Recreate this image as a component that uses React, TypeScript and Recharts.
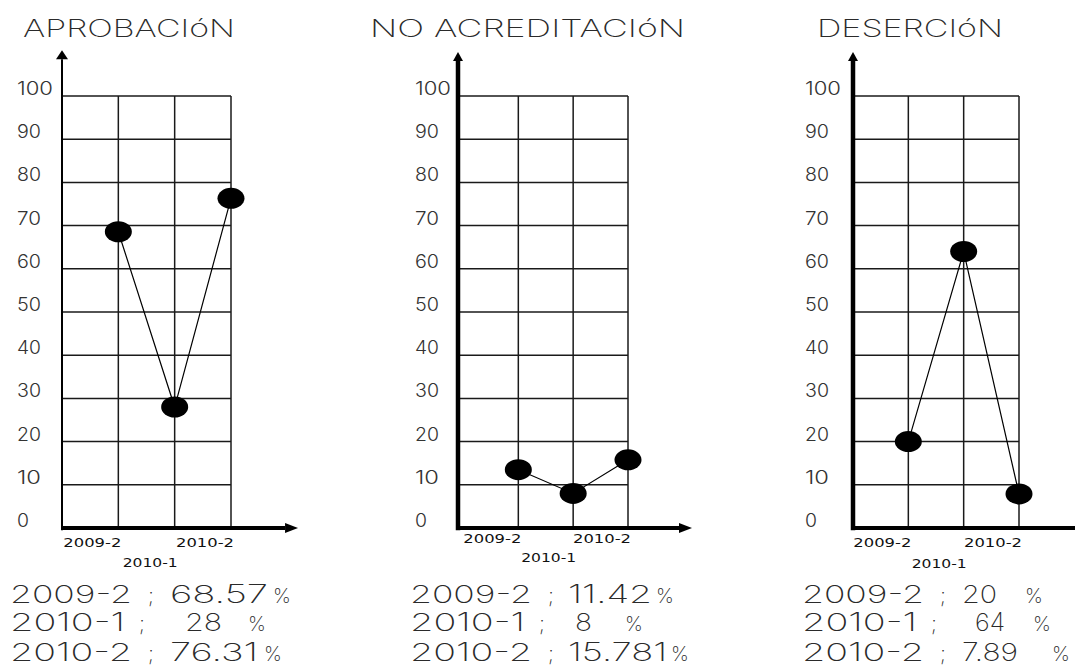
import React from 'react';
import { LineChart, Line, XAxis, YAxis, CartesianGrid, ReferenceLine } from 'recharts';

// ---------- data ----------
const periods = ['2009-2', '2010-1', '2010-2'];
const yTicks = [0, 10, 20, 30, 40, 50, 60, 70, 80, 90, 100];
const titles = ['APROBACIóN', 'NO ACREDITACIóN', 'DESERCIóN'];
const aprobacion = [68.57, 28, 76.31];
const noAcreditacion = [13.5, 8, 15.78];
const desercion = [20, 64, 7.89];
const aprobacionText = ['68.57', '28', '76.31'];
const noAcreditacionText = ['11.42', '8', '15.781'];
const desercionText = ['20', '64', '7.89'];

// ---------- layout ----------
const FONT = '"DejaVu Sans", sans-serif';
const THIN = 'Inter, "DejaVu Sans", sans-serif';
const INK = '#2a2a2a';
const PLOT_TOP = 96;
const PLOT_BOTTOM = 528;
const H = 666;
const Y_AXIS_W = 50;
const X_AXIS_H = 40;

const panels = [
  {
    left: 0, width: 310, axisX: 62, rightX: 231, xMin: 0, arrowX: 4.19, arrowY: 110.6,
    yAxisW: 2, yHead: 9, yHalf: 6, xHead: 13, xHalf: 5,
    yLabelOff: 45, xLabDy: [19, 39, 19],
    title: [23, 235], labelX: 10,
    nums: [[170, 268, 273], [185, 222, 248], [170, 258, 264]],
  },
  {
    left: 360, width: 340, axisX: 458, rightX: 628, xMin: -0.1, arrowX: 4.167, arrowY: 110.2,
    yAxisW: 4.5, yHead: 9, yHalf: 5, xHead: 13, xHalf: 5,
    yLabelOff: 43, xLabDy: [15, 34, 15],
    title: [370, 685], labelX: 410,
    nums: [[568, 652, 656], [575, 592, 625], [568, 667, 671]],
  },
  {
    left: 760, width: 315, axisX: 853, rightX: 1019, xMin: 0, arrowX: 4.3, arrowY: 110.2,
    yAxisW: 4.5, yHead: 9, yHalf: 5, xHead: 13, xHalf: 5,
    yLabelOff: 48, xLabDy: [19, 40, 19],
    title: [817, 1003], labelX: 802,
    nums: [[962, 997, 1025], [975, 1005, 1033], [962, 1018, 1052]],
  },
];

const seriesList = [aprobacion, noAcreditacion, desercion];
const textList = [aprobacionText, noAcreditacionText, desercionText];
const baselines = [603, 631, 661];

function Arrow(props: any) {
  const { x1, y1, x2, y2, sw, head, half } = props;
  const dx = x2 - x1;
  const dy = y2 - y1;
  const len = Math.hypot(dx, dy) || 1;
  const ux = dx / len;
  const uy = dy / len;
  const bx = x2 - ux * head;
  const by = y2 - uy * head;
  const px = -uy;
  const py = ux;
  return (
    <g>
      <line x1={x1} y1={y1} x2={bx} y2={by} stroke="#000" strokeWidth={sw} />
      <polygon
        points={`${x2},${y2} ${bx + px * half},${by + py * half} ${bx - px * half},${by - py * half}`}
        fill="#000"
      />
    </g>
  );
}

function Panel({ p, values }: { p: any; values: number[] }) {
  const data = values.map((v, i) => ({ x: i + 1, v }));
  const margin = {
    top: PLOT_TOP,
    right: p.left + p.width - p.rightX,
    bottom: H - PLOT_BOTTOM - X_AXIS_H,
    left: p.axisX - p.left - Y_AXIS_W,
  };
  const XTick = (props: any) => {
    const { x, y, payload } = props;
    const i = Math.round(payload.value) - 1;
    if (i < 0 || i > 2) return null;
    const w = i === 1 ? 55 : 58;
    return (
      <text
        x={x + 3 - w}
        y={y + p.xLabDy[i]}
        textLength={w}
        lengthAdjust="spacingAndGlyphs"
        fontFamily={FONT}
        fontSize={13}
        fill="#111"
      >
        {periods[i]}
      </text>
    );
  };
  const YTick = (props: any) => {
    const { x, y, payload } = props;
    const s = String(payload.value);
    return (
      <text x={x - p.yLabelOff} y={y - 1} textLength={s.length * 12} lengthAdjust="spacingAndGlyphs"
        fontFamily={THIN} fontSize={18} fontWeight={300} fill="#333">
        {s}
      </text>
    );
  };
  const Dot = (props: any) => {
    const { cx, cy, index } = props;
    return <ellipse key={`d-${index}`} cx={cx} cy={cy} rx={13.5} ry={10.5} fill="#000" />;
  };
  return (
    <div style={{ position: 'absolute', left: p.left, top: 0 }}>
      <LineChart width={p.width} height={H} data={data} margin={margin}>
        <CartesianGrid stroke="#1a1a1a" strokeWidth={1.5} />
        <XAxis
          type="number"
          dataKey="x"
          domain={[p.xMin, 3]}
          ticks={[1, 2, 3]}
          interval={0}
          height={X_AXIS_H}
          axisLine={false}
          tickLine={false}
          tickSize={0}
          tickMargin={0}
          tick={XTick}
        />
        <YAxis
          type="number"
          domain={[0, 100]}
          ticks={yTicks}
          interval={0}
          width={Y_AXIS_W}
          axisLine={false}
          tickLine={false}
          tickSize={0}
          tickMargin={0}
          tick={YTick}
        />
        <ReferenceLine
          segment={[{ x: p.xMin, y: -0.5 }, { x: p.xMin, y: p.arrowY }]}
          ifOverflow="visible"
          shape={(sp: any) => <Arrow {...sp} sw={p.yAxisW} head={p.yHead} half={p.yHalf} />}
        />
        <ReferenceLine
          segment={[{ x: p.xMin, y: 0 }, { x: p.arrowX, y: 0 }]}
          ifOverflow="visible"
          shape={(sp: any) => <Arrow {...sp} sw={4} head={p.xHead} half={p.xHalf} />}
        />
        <Line
          dataKey="v"
          stroke="#000"
          strokeWidth={1.2}
          dot={Dot}
          activeDot={false}
          isAnimationActive={false}
        />
      </LineChart>
    </div>
  );
}

function Overlay() {
  const T = { fontFamily: THIN, fontWeight: 200, fill: INK };
  return (
    <svg
      width={1075}
      height={H}
      style={{ position: 'absolute', left: 0, top: 0, pointerEvents: 'none' }}
    >
      {panels.map((p, k) => (
        <g key={`t-${k}`}>
          <text
            x={p.title[0]}
            y={37}
            textLength={p.title[1] - p.title[0]}
            lengthAdjust="spacingAndGlyphs"
            fontSize={24}
            {...T}
          >
            {titles[k]}
          </text>
          {periods.map((per, i) => {
            const b = baselines[i];
            const lw = i === 1 ? 115 : 122;
            const semiX = p.labelX + (i === 1 ? 129 : 138);
            const [n0, n1, pc] = p.nums[i];
            return (
              <g key={`l-${k}-${i}`}>
                <text x={p.labelX} y={b} textLength={lw} lengthAdjust="spacingAndGlyphs"
                  fontSize={25} {...T}>{per}</text>
                <text x={semiX} y={b} fontSize={21} {...T}>;</text>
                <text x={n0} y={b} textLength={n1 - n0} lengthAdjust="spacingAndGlyphs"
                  fontSize={25} {...T}>{textList[k][i]}</text>
                <text x={pc} y={b} fontSize={20} {...T}>%</text>
              </g>
            );
          })}
        </g>
      ))}
    </svg>
  );
}

export default function App() {
  return (
    <div
      style={{
        position: 'absolute',
        left: 0,
        top: 0,
        width: 1075,
        height: H,
        background: '#fff',
        overflow: 'hidden',
      }}
    >
      {panels.map((p, k) => (
        <Panel key={k} p={p} values={seriesList[k]} />
      ))}
      <Overlay />
    </div>
  );
}
